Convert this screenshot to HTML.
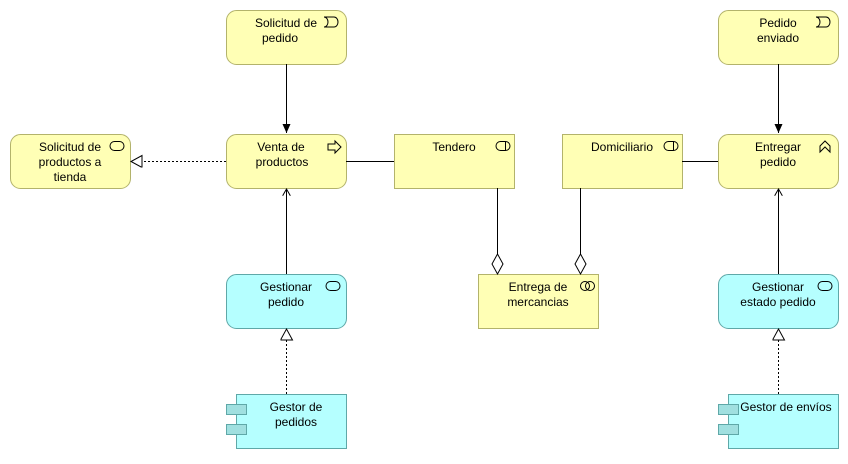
<!DOCTYPE html>
<html><head><meta charset="utf-8"><style>
body{margin:0;background:#fff}
text{font-family:"Liberation Sans",sans-serif;font-size:12px;fill:#000}
</style></head><body>
<svg width="848" height="459" viewBox="0 0 848 459" xmlns="http://www.w3.org/2000/svg">
<defs>
<marker id="fa" markerWidth="10" markerHeight="10" refX="9" refY="5" orient="auto" markerUnits="userSpaceOnUse"><path d="M0,1 L9,5 L0,9 z" fill="#000"/></marker>
<marker id="oa" markerWidth="8" markerHeight="8" refX="7" refY="4" orient="auto" markerUnits="userSpaceOnUse"><path d="M0,0 L7,4 L0,8" fill="none" stroke="#000"/></marker>
<marker id="tri" markerWidth="14" markerHeight="14" refX="12" refY="6" orient="auto" markerUnits="userSpaceOnUse"><path d="M1,0 L12,6 L1,12 z" fill="#fff" stroke="#000"/></marker>
</defs>
<g stroke="#b3b36b" fill="#ffffb5">
<rect x="226.5" y="10.5" width="120" height="54" rx="10"/>
<rect x="226.5" y="134.5" width="120" height="54" rx="10"/>
<rect x="10.5" y="134.5" width="120" height="54" rx="10"/>
<rect x="394.5" y="134.5" width="120" height="54"/>
<rect x="562.5" y="134.5" width="120" height="54"/>
<rect x="718.5" y="134.5" width="120" height="54" rx="10"/>
<rect x="718.5" y="10.5" width="120" height="54" rx="10"/>
<rect x="478.5" y="274.5" width="120" height="54"/>
</g>
<g stroke="#5fa8a8" fill="#b5ffff">
<rect x="226.5" y="274.5" width="120" height="54" rx="10"/>
<rect x="718.5" y="274.5" width="120" height="54" rx="10"/>
<rect x="236.5" y="394.5" width="110" height="54"/>
<rect x="728.5" y="394.5" width="110" height="54"/>
<rect x="226.5" y="404.5" width="20" height="10" fill="#a0e0e0"/>
<rect x="226.5" y="424.5" width="20" height="10" fill="#a0e0e0"/>
<rect x="718.5" y="404.5" width="20" height="10" fill="#a0e0e0"/>
<rect x="718.5" y="424.5" width="20" height="10" fill="#a0e0e0"/>
</g>
<g stroke="#000" fill="none">
<line x1="286.5" y1="64" x2="286.5" y2="133" marker-end="url(#fa)"/>
<line x1="778.5" y1="64" x2="778.5" y2="133" marker-end="url(#fa)"/>
<line x1="286.5" y1="274" x2="286.5" y2="189" marker-end="url(#oa)"/>
<line x1="778.5" y1="274" x2="778.5" y2="189" marker-end="url(#oa)"/>
<line x1="226" y1="161.5" x2="131" y2="161.5" stroke-dasharray="2,2" marker-end="url(#tri)"/>
<line x1="286.5" y1="394" x2="286.5" y2="329" stroke-dasharray="2,2" marker-end="url(#tri)"/>
<line x1="778.5" y1="394" x2="778.5" y2="329" stroke-dasharray="2,2" marker-end="url(#tri)"/>
<line x1="346" y1="161.5" x2="394" y2="161.5"/>
<line x1="682" y1="161.5" x2="718" y2="161.5"/>
<line x1="497.5" y1="188" x2="497.5" y2="254"/>
<line x1="580.5" y1="188" x2="580.5" y2="254"/>
<path d="M497.5,254 L503,264 L497.5,274 L492,264 z" fill="#fff"/>
<path d="M580.5,254 L586,264 L580.5,274 L575,264 z" fill="#fff"/>
<!-- icons -->
<path d="M324,17 h10 a4,5 0 0 1 0,10 h-10 a4,5 0 0 0 0,-10 z"/>
<path d="M816,17 h10 a4,5 0 0 1 0,10 h-10 a4,5 0 0 0 0,-10 z"/>
<path d="M328,144 h7 v-3 l6,6 l-6,6 v-3 h-7 z"/>
<rect x="496" y="141.5" width="14" height="9" rx="4.5"/><line x1="505.5" y1="142" x2="505.5" y2="150"/>
<rect x="664" y="141.5" width="14" height="9" rx="4.5"/><line x1="673.5" y1="142" x2="673.5" y2="150"/>
<rect x="110" y="141.5" width="14" height="9" rx="4.5"/>
<rect x="326" y="281.5" width="14" height="9" rx="4.5"/>
<rect x="818" y="281.5" width="14" height="9" rx="4.5"/>
<circle cx="585" cy="286" r="4.5"/><circle cx="590" cy="286" r="4.5"/>
<path d="M820,152 v-6 l5,-5 l5,5 v6 l-5,-5 z"/>
</g>
<g text-anchor="middle">
<text x="286" y="27">Solicitud de</text><text x="280" y="42">pedido</text>
<text x="281" y="151">Venta de</text><text x="282" y="166">productos</text>
<text x="70" y="151">Solicitud de</text><text x="70" y="166">productos a</text><text x="70" y="181">tienda</text>
<text x="454" y="151">Tendero</text>
<text x="622" y="151">Domiciliario</text>
<text x="778" y="151">Entregar</text><text x="778" y="166">pedido</text>
<text x="778" y="27">Pedido</text><text x="778" y="42">enviado</text>
<text x="286" y="291">Gestionar</text><text x="286" y="306">pedido</text>
<text x="538" y="291">Entrega de</text><text x="538" y="306">mercancias</text>
<text x="778" y="291">Gestionar</text><text x="778" y="306">estado pedido</text>
<text x="296" y="411">Gestor de</text><text x="296" y="426">pedidos</text>
<text x="786" y="411">Gestor de envíos</text>
</g>
</svg>
</body></html>
